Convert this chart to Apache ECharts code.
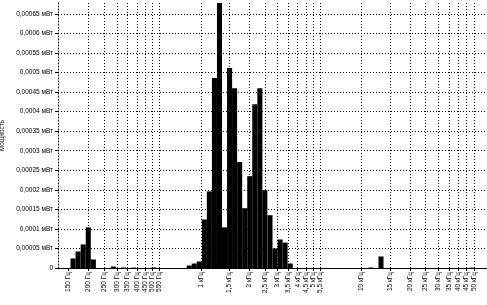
<!DOCTYPE html>
<html><head><meta charset="utf-8">
<script src="https://cdn.jsdelivr.net/npm/echarts@6/dist/echarts.min.js"></script>
<style>html,body{margin:0;padding:0;background:#fff}#c{width:487px;height:305px}</style>
</head><body><div id="c"></div>
<script>
// Bin centre frequencies (Hz) and measured power (мВт)
const freqHz = [160, 172, 185, 199, 214, 285, 330, 381, 509,
  845, 908, 976, 1050, 1128, 1213, 1304, 1402, 1507, 1619, 1741, 1871, 2012, 2162, 2325, 2498, 2688, 2888, 3106, 3337, 3590,
  11407, 13188, 48500];
const powerMw = [0.0000244, 0.0000423, 0.0000603, 0.000104, 0.0000218, 0.0000038, 0.0000013, 0.000001, 0.0000013,
  0.0000064, 0.0000115, 0.0000167, 0.000124, 0.000196, 0.000486, 0.000678, 0.000104, 0.000512, 0.00046, 0.000271, 0.000153, 0.000235, 0.000419, 0.00046, 0.000199, 0.000135, 0.00005, 0.000073, 0.000065, 0.0000115,
  0.0000013, 0.0000295, 0.000001];
const tickFreqHz = [150, 200, 250, 300, 350, 400, 450, 500, 550,
  1000, 1500, 2000, 2500, 3000, 3500, 4000, 4500, 5000, 5500,
  10000, 15000, 20000, 25000, 30000, 35000, 40000, 45000, 50000, 55000];
const tickText = ['150 Гц', '200 Гц', '250 Гц', '300 Гц', '350 Гц', '400 Гц', '450 Гц', '500 Гц', '550 Гц',
  '1 кГц', '1,5 кГц', '2 кГц', '2,5 кГц', '3 кГц', '3,5 кГц', '4 кГц', '4,5 кГц', '5 кГц', '5,5 кГц',
  '10 кГц', '15 кГц', '20 кГц', '25 кГц', '30 кГц', '35 кГц', '40 кГц', '45 кГц', '50 кГц', '55 кГц'];
const yAxisTitle = 'Мощность';
const unit = 'мВт';
const freqMin = 129, freqMax = 60200;

const lg = Math.log10;
const tickPos = tickFreqHz.map(lg);
const labelByPos = {};
tickPos.forEach((p, i) => { labelByPos[p.toFixed(6)] = tickText[i]; });
const font = '"Liberation Sans", Arial, sans-serif';
const dots = { color: '#000', width: 1, type: [1, 2] };

const chart = echarts.init(document.getElementById('c'), null, { renderer: 'canvas' });
chart.setOption({
  animation: false,
  backgroundColor: '#fff',
  grid: { left: 58, right: 0, top: 3, bottom: 37, containLabel: false, outerBoundsMode: 'none' },
  xAxis: {
    type: 'value', min: lg(freqMin), max: lg(freqMax),
    axisLine: { show: true, onZero: false, lineStyle: { color: '#000', width: 1 } },
    axisTick: { show: true, customValues: tickPos, length: 3, lineStyle: { color: '#000' } },
    axisLabel: { customValues: tickPos, rotate: 90, fontSize: 6.5, color: '#000', fontFamily: font, margin: 4,
      hideOverlap: false,
      formatter: v => labelByPos[Number(v).toFixed(6)] || '' },
    splitLine: { show: true, showMinLine: false, showMaxLine: false, lineStyle: dots }
  },
  yAxis: {
    type: 'value', min: 0, max: 'dataMax', interval: 0.00005,
    name: yAxisTitle, nameLocation: 'middle', nameGap: 45,
    nameTextStyle: { fontSize: 6.5, color: '#000', fontFamily: font },
    axisLine: { show: true, lineStyle: dots },
    axisTick: { show: true, length: 3, lineStyle: { color: '#000' } },
    axisLabel: { fontSize: 6.5, color: '#000', fontFamily: font, margin: 5, showMaxLabel: false,
      formatter: v => v === 0 ? '0' : String(parseFloat(v.toFixed(6))).replace('.', ',') + ' ' + unit },
    splitLine: { show: true, showMaxLine: false, lineStyle: dots }
  },
  series: [{
    type: 'bar', barWidth: 5.05,
    data: freqHz.map((f, i) => [lg(f), powerMw[i]]),
    itemStyle: { color: '#000' }
  }]
});
</script></body></html>
